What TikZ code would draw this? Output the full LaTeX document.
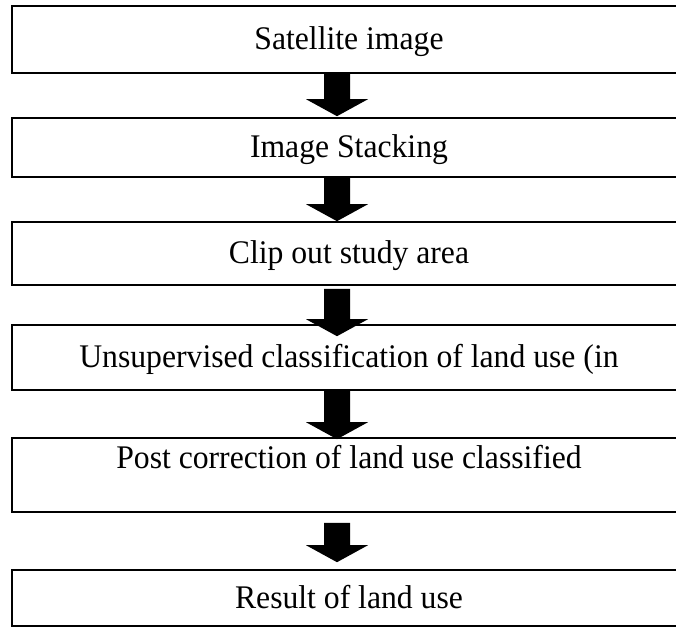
\documentclass[tikz,border=0pt]{standalone}
\usepackage{fontspec}
\setmainfont{Liberation Serif}[FakeStretch=0.96]
\usetikzlibrary{calc}
\tikzset{
  stepbox/.style={draw=black, line width=1.6pt, inner sep=0pt, minimum width=674pt,
    font=\fontsize{33}{39}\selectfont, text height=23pt, text depth=3pt, anchor=center},
  arrowfill/.style={fill=black}
}
\newcommand\flowarrow[4]{%
  \path ($(#1.south)+(-12,#3)$) coordinate (#1s)
        ($(#2.north)+(-12,#4)$) coordinate (#2t);
  \fill[arrowfill] ($(#1s)+(-13,0)$) -- ($(#2t)+(-13,-17)$) -- ($(#2t)+(-31,-17)$)
     -- (#2t) -- ($(#2t)+(31,-17)$) -- ($(#2t)+(13,-17)$) -- ($(#1s)+(13,0)$) -- cycle;
}
\begin{document}
\begin{tikzpicture}[x=1pt,y=-1pt]
\useasboundingbox (0,0) rectangle (676,631);
\fill[white] (0,0) rectangle (676,631);
\clip (0,0) rectangle (676,631);
\node[stepbox, minimum height=67pt] (b1) at (349,39.5) {Satellite image};
\node[stepbox, minimum height=59pt] (b2) at (349,147.5) {Image Stacking};
\node[stepbox, minimum height=63pt] (b3) at (349,253.5) {Clip out study area};
\node[stepbox, minimum height=65pt] (b4) at (349,357.5) {Unsupervised classification of land use (in};
\node[stepbox, minimum height=74pt, text depth=37pt] (b5) at (349,475) {Post correction of land use classified};
\node[stepbox, minimum height=56pt] (b6) at (349,598) {Result of land use};
\flowarrow{b1}{b2}{0}{-1}
\flowarrow{b2}{b3}{0}{0}
\flowarrow{b3}{b4}{3}{12}
\flowarrow{b4}{b5}{0}{2}
\flowarrow{b5}{b6}{10}{-7}
\end{tikzpicture}
\end{document}
